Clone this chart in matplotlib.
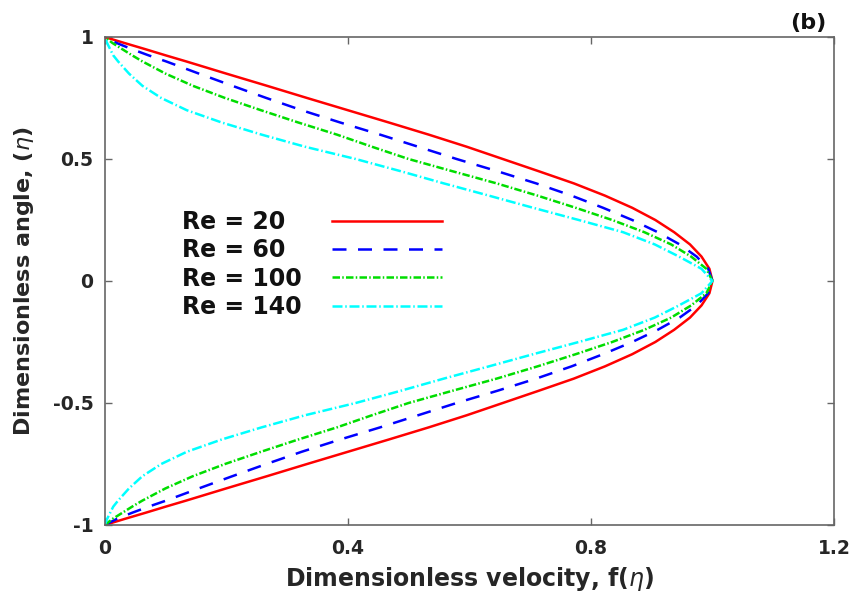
import matplotlib
matplotlib.use('Agg')
import matplotlib.pyplot as plt

# dimensionless angle eta (vertical axis)
eta = [-1.0, -0.975, -0.95, -0.925, -0.9, -0.85, -0.8, -0.75, -0.7, -0.65, -0.6,
       -0.55, -0.5, -0.45, -0.4, -0.35, -0.3, -0.25, -0.2, -0.15, -0.1, -0.05,
       0.0, 0.05, 0.1, 0.15, 0.2, 0.25, 0.3, 0.35, 0.4, 0.45, 0.5, 0.55, 0.6,
       0.65, 0.7, 0.75, 0.8, 0.85, 0.9, 0.925, 0.95, 0.975, 1.0]

# velocity f(eta), one list per Reynolds number
f_re20 = [0.0, 0.033, 0.067, 0.100, 0.134, 0.200, 0.267, 0.333, 0.400, 0.467, 0.533,
          0.596, 0.655, 0.714, 0.772, 0.823, 0.868, 0.906, 0.937, 0.963, 0.982, 0.995,
          1.0, 0.995, 0.982, 0.963, 0.937, 0.906, 0.868, 0.823, 0.772, 0.714, 0.655,
          0.596, 0.533, 0.467, 0.400, 0.333, 0.267, 0.200, 0.134, 0.100, 0.067, 0.033, 0.0]
f_re60 = [0.0, 0.020, 0.045, 0.072, 0.101, 0.155, 0.210, 0.266, 0.324, 0.387, 0.453,
          0.516, 0.579, 0.646, 0.710, 0.768, 0.820, 0.868, 0.910, 0.946, 0.974, 0.993,
          1.0, 0.993, 0.974, 0.946, 0.910, 0.868, 0.820, 0.768, 0.710, 0.646, 0.579,
          0.516, 0.453, 0.387, 0.324, 0.266, 0.210, 0.155, 0.101, 0.072, 0.045, 0.020, 0.0]
f_re100 = [0.0, 0.013, 0.029, 0.045, 0.062, 0.100, 0.145, 0.198, 0.257, 0.318, 0.382,
           0.440, 0.500, 0.572, 0.645, 0.712, 0.775, 0.835, 0.888, 0.932, 0.965, 0.990,
           1.0, 0.990, 0.965, 0.932, 0.888, 0.835, 0.775, 0.712, 0.645, 0.572, 0.500,
           0.440, 0.382, 0.318, 0.257, 0.198, 0.145, 0.100, 0.062, 0.045, 0.029, 0.013, 0.0]
f_re140 = [0.0, 0.004, 0.009, 0.014, 0.022, 0.040, 0.062, 0.093, 0.135, 0.192, 0.258,
           0.330, 0.413, 0.487, 0.558, 0.632, 0.705, 0.780, 0.853, 0.905, 0.945, 0.982,
           1.0, 0.982, 0.945, 0.905, 0.853, 0.780, 0.705, 0.632, 0.558, 0.487, 0.413,
           0.330, 0.258, 0.192, 0.135, 0.093, 0.062, 0.040, 0.022, 0.014, 0.009, 0.004, 0.0]

# figure spaces pad the short labels so the text lines up on the left
labels = ['Re = 20\u2007', 'Re = 60\u2007', 'Re = 100', 'Re = 140']
colors = ['#ff0000', '#0000ff', '#00dd00', '#00ffff']

fig = plt.figure(figsize=(8.57, 5.98), dpi=100)
ax = fig.add_axes([104.7 / 857, 73 / 598, 729.3 / 857, 488 / 598])

lw = 1.8
ax.plot(f_re20, eta, color=colors[0], lw=lw, label=labels[0])
ax.plot(f_re60, eta, color=colors[1], lw=lw, dashes=(5.6, 4.6), label=labels[1])
ax.plot(f_re100, eta, color=colors[2], lw=lw, dashes=(3.0, 0.9, 0.6, 0.9), label=labels[2])
ax.plot(f_re140, eta, color=colors[3], lw=lw, dashes=(4.0, 1.1, 0.6, 1.1), label=labels[3])

ax.set_xlim(0, 1.2)
ax.set_ylim(-1, 1)
ax.set_xticks([0, 0.4, 0.8, 1.2])
ax.set_xticklabels(['0', '0.4', '0.8', '1.2'])
ax.set_yticks([-1, -0.5, 0, 0.5, 1])
ax.set_yticklabels(['-1', '-0.5', '0', '0.5', '1'])

tick_font = {'family': 'DejaVu Sans', 'weight': 'bold', 'size': 13.5}
for t in ax.get_xticklabels() + ax.get_yticklabels():
    t.set_fontproperties(tick_font)
    t.set_color('#262626')
ax.tick_params(direction='in', length=5, width=1, color='#666666',
               top=True, right=True)
ax.tick_params(axis='x', pad=10)
ax.tick_params(axis='y', pad=8)
for s in ax.spines.values():
    s.set_color('#666666')
    s.set_linewidth(1.2)

ax.set_xlabel(r'Dimensionless velocity, f($\eta$)', fontfamily='DejaVu Sans',
              fontweight='bold', fontsize=17, color='#262626', labelpad=5)
ax.set_ylabel(r'Dimensionless angle, ($\eta$)', fontfamily='DejaVu Sans',
              fontweight='bold', fontsize=16, color='#262626', labelpad=12)

leg = ax.legend(loc='upper left', bbox_to_anchor=(0.1055, 0.645), frameon=False,
                markerfirst=False, handlelength=4.66, handletextpad=1.28,
                labelspacing=0.18, borderpad=0, borderaxespad=0,
                prop={'family': 'DejaVu Sans', 'weight': 'bold', 'size': 17})
for t in leg.get_texts():
    t.set_color('#111111')

ax.text(0.990, 1.016, '(b)', transform=ax.transAxes, ha='right', va='baseline',
        fontfamily='DejaVu Sans', fontweight='bold', fontsize=16, color='#111111')

fig.savefig('out.png', dpi=100)
